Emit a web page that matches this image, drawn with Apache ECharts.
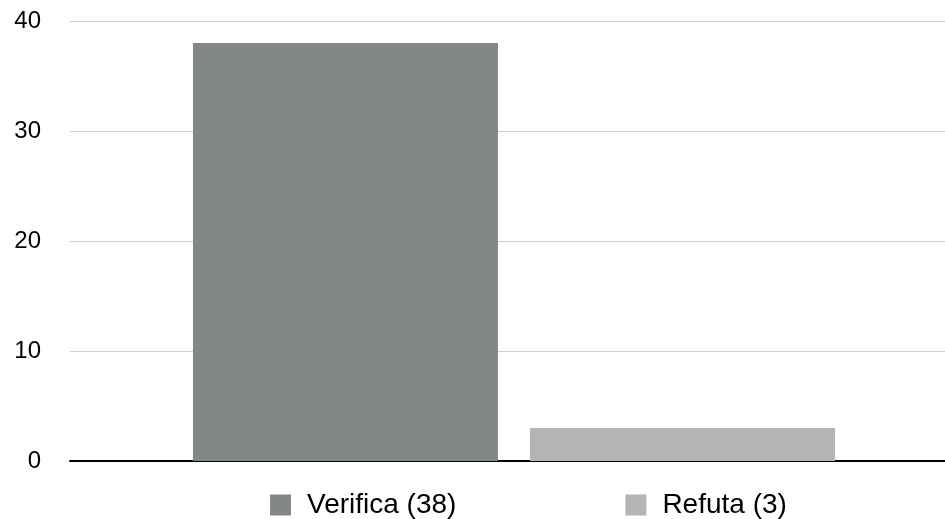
<!DOCTYPE html>
<html>
<head>
<meta charset="utf-8">
<style>
  html, body { margin: 0; padding: 0; background: #fff; }
  #chart { width: 945px; height: 519px; }
</style>
<script src="https://cdn.jsdelivr.net/npm/echarts@6/dist/echarts.min.js"></script>
</head>
<body>
<div id="chart"></div>
<script>
// data
var categories = ['']
var seriesNames = ['Verifica (38)', 'Refuta (3)']
var verificaData = [38]
var refutaData = [3]
var yTicks = { min: 0, max: 40, interval: 10 }

var chart = echarts.init(document.getElementById('chart'))
chart.setOption({
  animation: false,
  textStyle: { fontFamily: 'Liberation Sans, Arial, sans-serif' },
  grid: {
    left: 70,
    right: -13,
    top: 21,
    bottom: 58,
    outerBoundsMode: 'none'
  },
  legend: {
    data: seriesNames,
    left: 270,
    top: 491,
    padding: 0,
    icon: 'rect',
    itemWidth: 21,
    itemHeight: 21,
    itemGap: 169,
    textStyle: {
      fontSize: 28,
      color: '#000',
      padding: [0, 0, 0, 11]
    }
  },
  xAxis: {
    type: 'category',
    data: categories,
    axisTick: { show: false },
    axisLabel: { show: false },
    axisLine: { lineStyle: { color: '#000', width: 2 } }
  },
  yAxis: {
    type: 'value',
    min: yTicks.min,
    max: yTicks.max,
    interval: yTicks.interval,
    axisLine: { show: false },
    axisTick: { show: false },
    axisLabel: { fontSize: 24, color: '#000', margin: 29 },
    splitLine: { lineStyle: { color: '#d0d0d0', width: 1 } }
  },
  series: [
    {
      name: seriesNames[0],
      type: 'bar',
      data: verificaData,
      barWidth: 305,
      barGap: '10.5%',
      itemStyle: { color: '#828884' }
    },
    {
      name: seriesNames[1],
      type: 'bar',
      data: refutaData,
      barWidth: 305,
      itemStyle: { color: '#b4b4b4' }
    }
  ]
})
</script>
</body>
</html>
